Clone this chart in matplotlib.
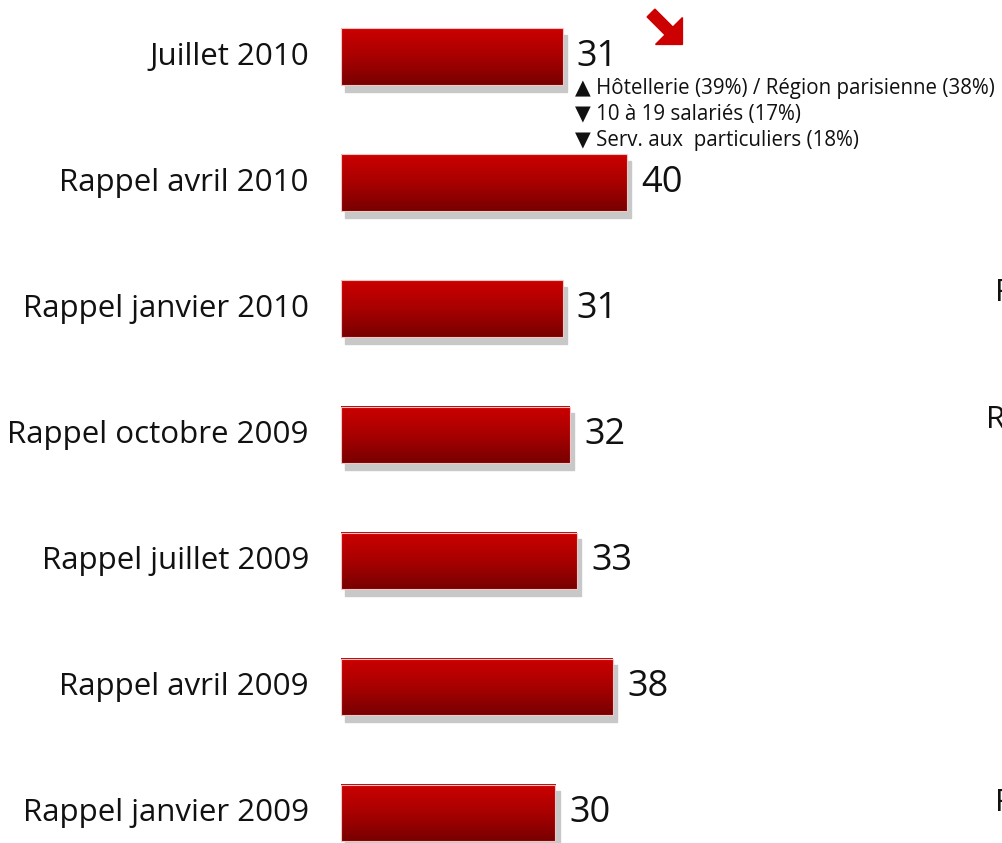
import numpy as np
import matplotlib.pyplot as plt
from matplotlib.patches import Rectangle, FancyArrow
from matplotlib.colors import LinearSegmentedColormap

plt.rcParams['font.family'] = ['Open Sans', 'DejaVu Sans']

labels = ["Juillet 2010", "Rappel avril 2010", "Rappel janvier 2010",
          "Rappel octobre 2009", "Rappel juillet 2009", "Rappel avril 2009",
          "Rappel janvier 2009"]
values = [31, 40, 31, 32, 33, 38, 30]

notes = ["\u25b2 Hôtellerie (39%) / Région parisienne (38%)",
         "\u25bc 10 à 19 salariés (17%)",
         "\u25bc Serv. aux  particuliers (18%)"]

# labels of the neighbouring chart, cut by the right edge
cut_labels = ["Rappel", "Rappel", "Rappel"]
cut_rows = [1.87, 2.88, 5.92]
cut_x = [91.5, 90.2, 91.5]

W, H = 1003, 843
fig = plt.figure(figsize=(W / 100, H / 100), dpi=100)
ax = fig.add_axes([0, 0, 1, 1])
ax.axis("off")

red = LinearSegmentedColormap.from_list("bar", ["#cc0000", "#a80000", "#780000"])
grad = np.linspace(0, 1, 256).reshape(-1, 1)
h = 0.452

for i, (lab, v) in enumerate(zip(labels, values)):
    ax.add_patch(Rectangle((0.6, i - h / 2 + 0.05), v, h, color="#c8c8c8", zorder=1))
    ax.imshow(grad, cmap=red, extent=[0, v, i + h / 2, i - h / 2],
              aspect="auto", zorder=2)
    ax.add_patch(Rectangle((0, i - h / 2), v, h, fill=False,
                           edgecolor="#f4c4c4", lw=0.8, zorder=3))
    ax.text(-4.5, i, lab, ha="right", va="center", fontsize=22.5, color="#111111")
    ax.text(v + 2.0, i, str(v), ha="left", va="center",
            fontsize=26, color="#111111")

for k, note in enumerate(notes):
    ax.text(32.7, 0.25 + 0.206 * k, note, ha="left", va="center",
            fontsize=14.8, color="#111111")

for lab, r, x in zip(cut_labels, cut_rows, cut_x):
    ax.text(x, r, lab, ha="left", va="center", fontsize=22.5, color="#111111")

ax.set_xlim(-47.7, 92.6)
ax.set_ylim(6.238, -0.452)

# red trend arrow (display pixels)
fig.patches.append(FancyArrow(651, H - 13, 18, -18, width=11, head_width=38,
                              head_length=19, length_includes_head=False,
                              color="#cc0000", transform=None, figure=fig))

fig.savefig("out.png", dpi=100)
